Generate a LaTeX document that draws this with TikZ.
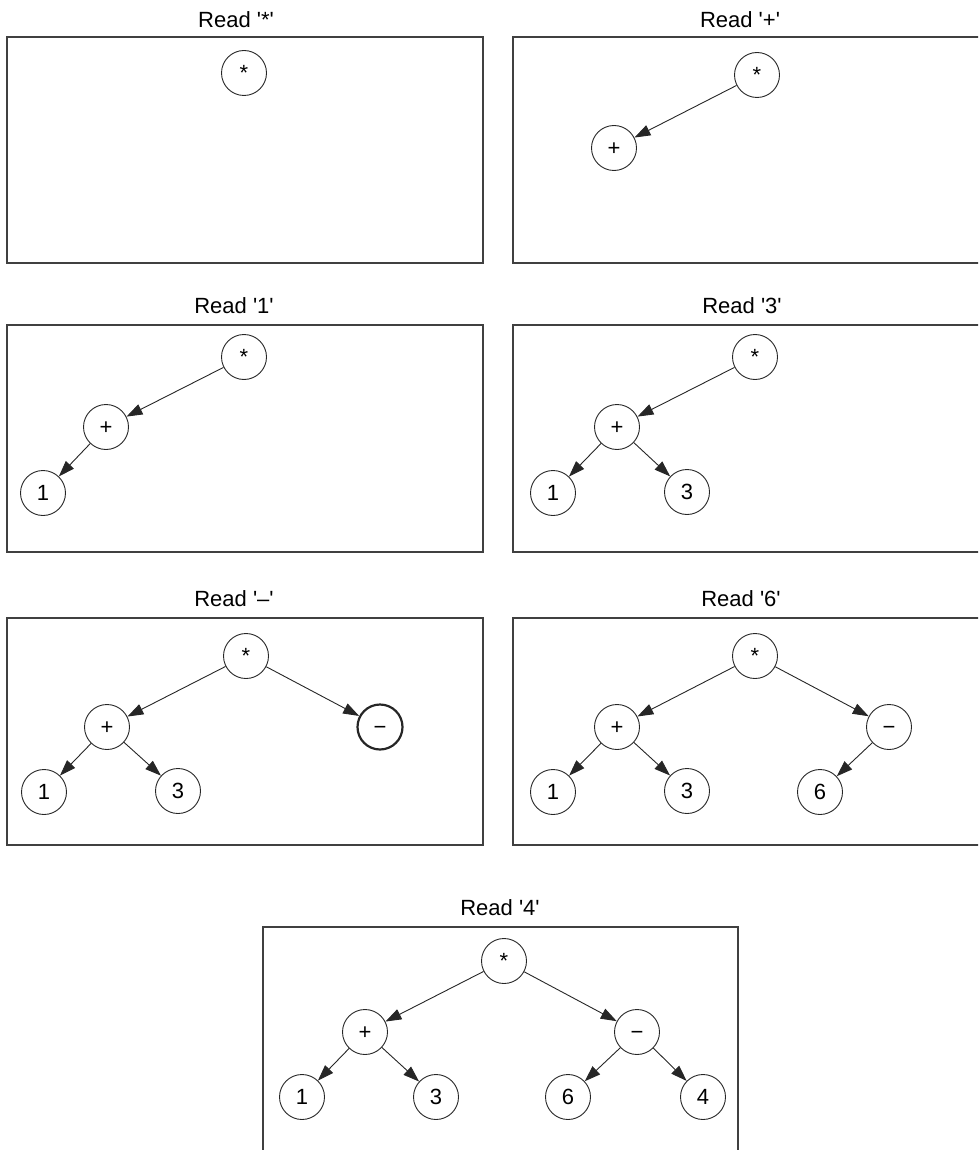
\documentclass[tikz,border=0pt]{standalone}
\usepackage{fontspec}
\setmainfont{Liberation Sans}
\usetikzlibrary{arrows.meta}
\newcommand{\quo}{\textquotesingle}

\begin{document}
\begin{tikzpicture}[x=1pt, y=-1pt]
    % ================= styles =================
    \tikzset{
        % tree nodes
        tnode/.style={circle, draw=black!85, line width=0.9pt, fill=white, minimum size=45pt, inner sep=0pt,
            text height=15.8pt, text depth=0pt, font=\fontsize{22}{26}\selectfont},
        % node just read
        newnode/.style={tnode, line width=2.2pt},
        % edges
        link/.style={draw=black!85, line width=0.9pt, -{Triangle[length=16pt, width=11pt]}},
        % frame round each step
        panel/.style={draw=black!75, line width=1.3pt},
        title/.style={font=\fontsize{22}{26}\selectfont}
    }
    \useasboundingbox (0,0) rectangle (978,1150);
    \clip (0,0) rectangle (978,1150);

    % ================= 1. Read '*' =================
    \begin{scope}[shift={(7,37)}]
        \draw[panel] (0,0) rectangle (476,226);
        \node[title] (head) at (229,-17) {Read \quo*\quo};
        \node[tnode] (star) at (237,36) {*};
    \end{scope}

    % ================= 2. Read '+' =================
    \begin{scope}[shift={(513,37)}]
        \draw[panel] (0,0) rectangle (476,226);
        \node[title] (head) at (227,-17) {Read \quo+\quo};
        \node[tnode] (star) at (244,38) {*};
        \node[tnode] (plus) at (101,111) {+};
        \draw[link] (star) -- (plus);
    \end{scope}

    % ================= 3. Read '1' =================
    \begin{scope}[shift={(7,325)}]
        \draw[panel] (0,0) rectangle (476,227);
        \node[title] (head) at (227,-19) {Read \quo1\quo};
        \node[tnode] (star) at (237,32) {*};
        \node[tnode] (plus) at (99,102) {+};
        \node[tnode] (n1) at (36,168) {1};
        \draw[link] (star) -- (plus);
        \draw[link] (plus) -- (n1);
    \end{scope}

    % ================= 4. Read '3' =================
    \begin{scope}[shift={(513,325)}]
        \draw[panel] (0,0) rectangle (476,227);
        \node[title] (head) at (229,-19) {Read \quo3\quo};
        \node[tnode] (star) at (242,32) {*};
        \node[tnode] (plus) at (104,102) {+};
        \node[tnode] (n1) at (40,168) {1};
        \node[tnode] (n3) at (174,167) {3};
        \draw[link] (star) -- (plus);
        \draw[link] (plus) -- (n1);
        \draw[link] (plus) -- (n3);
    \end{scope}

    % ================= 5. Read '-' =================
    \begin{scope}[shift={(7,618)}]
        \draw[panel] (0,0) rectangle (476,227);
        \node[title] (head) at (227,-19) {Read \quo–\quo};
        \node[tnode] (star) at (239,38) {*};
        \node[tnode] (plus) at (100,109) {+};
        \node[newnode] (minus) at (373,109) {−};
        \node[tnode] (n1) at (37,174) {1};
        \node[tnode] (n3) at (171,173) {3};
        \draw[link] (star) -- (plus);
        \draw[link] (star) -- (minus);
        \draw[link] (plus) -- (n1);
        \draw[link] (plus) -- (n3);
    \end{scope}

    % ================= 6. Read '6' =================
    \begin{scope}[shift={(513,618)}]
        \draw[panel] (0,0) rectangle (476,227);
        \node[title] (head) at (228,-19) {Read \quo6\quo};
        \node[tnode] (star) at (242,38) {*};
        \node[tnode] (plus) at (104,109) {+};
        \node[tnode] (minus) at (376,109) {−};
        \node[tnode] (n1) at (40,174) {1};
        \node[tnode] (n3) at (174,173) {3};
        \node[tnode] (n6) at (307,174) {6};
        \draw[link] (star) -- (plus);
        \draw[link] (star) -- (minus);
        \draw[link] (plus) -- (n1);
        \draw[link] (plus) -- (n3);
        \draw[link] (minus) -- (n6);
    \end{scope}

    % ================= 7. Read '4' =================
    \begin{scope}[shift={(263,927)}]
        \draw[panel] (0,0) rectangle (475,240);
        \node[title] (head) at (237,-19) {Read \quo4\quo};
        \node[tnode] (star) at (241,34) {*};
        \node[tnode] (plus) at (102,105) {+};
        \node[tnode] (minus) at (374,105) {−};
        \node[tnode] (n1) at (39,170) {1};
        \node[tnode] (n3) at (173,170) {3};
        \node[tnode] (n6) at (305,170) {6};
        \node[tnode] (n4) at (440,170) {4};
        \draw[link] (star) -- (plus);
        \draw[link] (star) -- (minus);
        \draw[link] (plus) -- (n1);
        \draw[link] (plus) -- (n3);
        \draw[link] (minus) -- (n6);
        \draw[link] (minus) -- (n4);
    \end{scope}

\end{tikzpicture}
\end{document}
